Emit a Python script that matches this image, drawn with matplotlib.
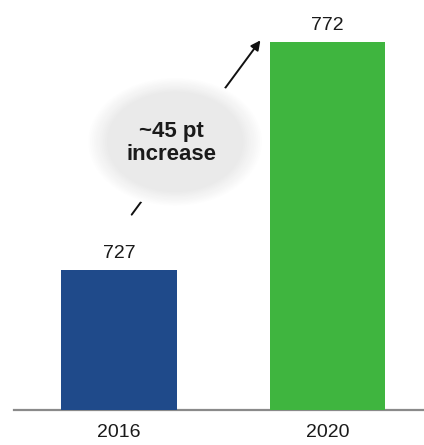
import matplotlib
matplotlib.use('Agg')
from matplotlib import pyplot as plt
from matplotlib.patches import Ellipse

plt.rcParams['font.family'] = ['Liberation Sans', 'DejaVu Sans']

years = ['2016', '2020']
scores = [727, 772]
colors = ['#1f4a8a', '#3fb53f']
note = '~45 pt\nincrease'

fig = plt.figure(figsize=(4.24, 4.45), dpi=100)
ax = fig.add_axes([14 / 424, 35 / 445, 1 - 14 / 424, 410 / 445])

pos = list(range(len(years)))
bars = ax.bar(pos, scores, width=0.556, color=colors, zorder=6)
ax.set_ylim(699.4, 780.3)
ax.set_xlim(-0.504, 1.463)

for b, v in zip(bars, scores):
    ax.annotate(str(v), (b.get_x() + b.get_width() / 2, v), xytext=(0, 6),
                textcoords='offset points', ha='center', va='bottom',
                fontsize=14, color='#1a1a1a')

ax.set_xticks(pos)
ax.set_xticklabels(years, fontsize=14, color='#1a1a1a')
ax.tick_params(axis='x', length=0, pad=10)
ax.set_yticks([])
for s in ['left', 'right', 'top']:
    ax.spines[s].set_visible(False)
ax.spines['bottom'].set_color('#8a8a8a')
ax.spines['bottom'].set_linewidth(1.6)

# arrow between the bars
ax.annotate('', xy=(0.605, 0.907), xytext=(0.283, 0.471), xycoords='axes fraction',
            arrowprops=dict(arrowstyle='-|>', color='#111111', lw=1.4, mutation_scale=14),
            zorder=2)

# soft grey cloud behind the note: opaque rings fading from white to grey
n = 12
for i in range(n):
    t = i / (n - 1)
    f = 1.04 - 0.24 * t
    g = 1.0 - (1.0 - 0.918) * t
    ax.add_patch(Ellipse((0.393, 0.654), 0.415 * f, 0.305 * f, transform=ax.transAxes,
                         facecolor=(g, g, g), edgecolor='none', zorder=4))

ax.text(0.385, 0.651, note, transform=ax.transAxes, ha='center', va='center',
        fontsize=16, fontweight='bold', color='#1a1a1a', linespacing=1.1, zorder=5)

fig.savefig('out.png', dpi=100)
